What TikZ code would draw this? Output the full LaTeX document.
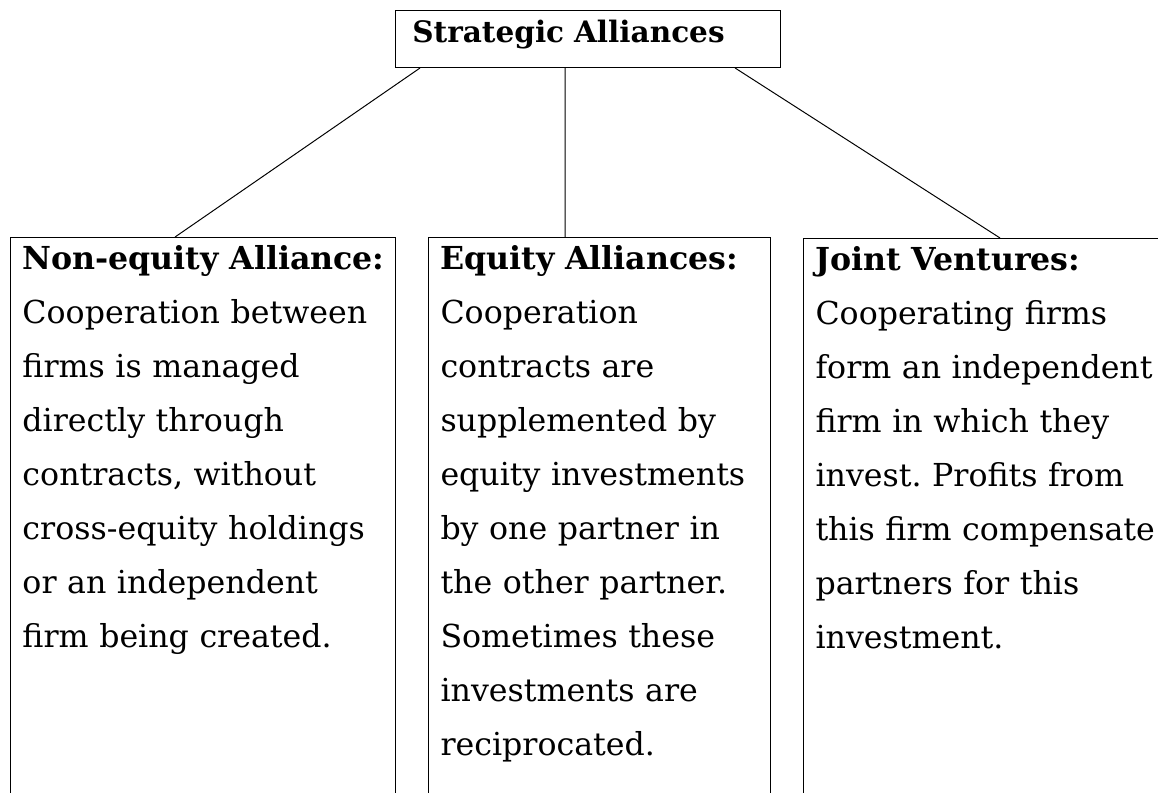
\documentclass[tikz,border=0pt]{standalone}
\usepackage{fontspec}
\setmainfont{DejaVu Serif}
\usetikzlibrary{positioning}
\frenchspacing

\begin{document}
\begin{tikzpicture}[x=0.025cm,y=-0.025cm,line width=0.7pt,
  topbox/.style={draw, anchor=north west, align=left, inner xsep=0.42cm, inner ysep=0pt,
    text height=0.8cm, text depth=0.625cm, font=\fontsize{21}{30}\selectfont\bfseries},
  allybox/.style={draw, anchor=north west, align=left, inner xsep=0.3cm, inner ysep=0pt,
    text height=0.8cm, text depth=16cm, font=\fontsize{22.5}{38.4}\selectfont}]
  \useasboundingbox (0,0) rectangle (1158,792);

  % Draw the top box
  \node[topbox, text width=8.785cm] (sa) at (395,10) {Strategic Alliances};

  % Draw the three kinds of alliance
  \node[allybox, text width=9.025cm] (nea) at (10,237) {\mbox{\textbf{Non-equity Alliance:}}\\
    Cooperation between\\ firms is managed\\ directly through\\ contracts, without\\
    cross-equity holdings\\ or an independent\\ firm being created.};

  \node[allybox, text width=7.95cm] (ea) at (428,237) {\mbox{\textbf{Equity Alliances:}}\\
    Cooperation\\ contracts are\\ supplemented by\\ equity investments\\
    by one partner in\\ the other partner.\\ Sometimes these\\ investments are\\ reciprocated.};

  \node[allybox, text width=9.4cm] (jv) at (803,238) {\mbox{\textbf{Joint Ventures:}}\\
    Cooperating firms\\ form an independent\\ firm in which they\\ invest. Profits from\\
    this firm compensate\\ partners for this\\ investment.};

  % Draw the lines
  \draw ([xshift=0.625cm]sa.south west) -- ([xshift=4.125cm]nea.north west);
  \draw ([xshift=4.25cm]sa.south west) -- ([xshift=3.425cm]ea.north west);
  \draw ([xshift=8.5cm]sa.south west) -- ([xshift=4.925cm]jv.north west);

\end{tikzpicture}
\end{document}
